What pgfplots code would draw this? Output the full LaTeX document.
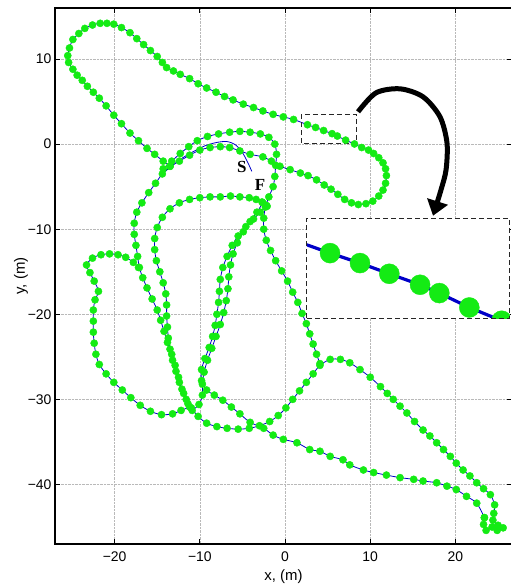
\documentclass[border=0pt]{standalone}
\usepackage{pgfplots}
\usepackage{pgfplotstable}
\pgfplotsset{compat=1.18}
\usepackage{fontspec}
\setmainfont{Liberation Sans}
\newfontfamily\labelserif{Liberation Serif}
\usetikzlibrary{arrows.meta}
\definecolor{trackgreen}{RGB}{20,235,20}
\definecolor{trackblue}{RGB}{0,0,200}

% Upper lobe, run from the crossing near (-13.5,-2.6) and back
\pgfplotstableread[row sep=\\]{x y\\
-13.5 -2.6\\ -14.3 -2.0\\ -15.3 -1.2\\ -16.2 -0.5\\ -17.2 0.4\\ -18.2 1.3\\ -19.2 2.4\\ -20.1 3.4\\
-21.0 4.5\\ -21.8 5.4\\ -22.5 6.1\\ -23.2 6.8\\ -23.8 7.5\\ -24.4 8.1\\ -24.9 8.8\\ -25.4 9.6\\
-25.5 10.4\\ -25.3 11.3\\ -24.9 12.3\\ -24.2 13.0\\ -23.5 13.6\\ -22.6 14.0\\ -21.7 14.2\\ -20.9 14.2\\
-20.1 14.1\\ -19.2 13.7\\ -18.2 13.1\\ -17.4 12.4\\ -16.6 11.7\\ -15.8 11.0\\ -15.0 10.3\\ -14.4 9.6\\
-13.9 9.0\\ -13.1 8.6\\ -12.3 8.2\\ -11.2 7.7\\ -10.2 7.1\\ -9.2 6.6\\ -8.1 6.1\\ -7.1 5.6\\
-6.1 5.2\\ -4.9 4.7\\ -3.7 4.3\\ -2.6 3.9\\ -1.4 3.5\\ -0.2 3.2\\ 1.0 2.9\\ 2.63 2.28\\
3.59 1.96\\ 4.53 1.60\\ 5.52 1.23\\ 6.14 0.95\\ 7.11 0.47\\ 8.15 0.02\\ 9.0 -0.4\\ 9.8 -0.7\\
10.4 -1.1\\ 11.0 -1.6\\ 11.5 -2.2\\ 11.8 -2.9\\ 11.9 -3.7\\ 11.8 -4.6\\ 11.5 -5.4\\ 11.0 -6.1\\
10.3 -6.7\\ 9.5 -7.0\\ 8.6 -7.1\\ 7.8 -6.9\\ 7.0 -6.5\\ 6.2 -5.9\\ 5.4 -5.3\\ 4.6 -4.8\\
3.7 -4.2\\ 2.7 -3.7\\ 1.8 -3.4\\ 0.6 -3.0\\ -0.6 -2.6\\ -1.6 -2.0\\ -2.6 -1.5\\ -4.1 -1.2\\
-5.3 -0.8\\ -6.5 -0.4\\ -7.6 -0.3\\ -8.8 -0.4\\ -10.0 -0.7\\ -11.2 -1.3\\ -12.4 -2.0\\ -13.5 -2.6\\
}\tabLobe

% Western leg, bottom arc, the rise and the long run out to the turn at the far corner
\pgfplotstableread[row sep=\\]{x y\\
-13.5 -2.6\\ -14.4 -3.5\\ -15.2 -4.6\\ -16.0 -5.7\\ -16.8 -6.9\\ -17.4 -8.0\\ -17.7 -9.3\\ -17.7 -10.6\\
-17.5 -11.9\\ -17.3 -13.2\\ -17.1 -14.5\\ -16.7 -15.7\\ -16.2 -16.9\\ -15.6 -18.2\\ -15.0 -19.5\\ -14.6 -20.7\\
-14.2 -22.0\\ -13.8 -23.3\\ -13.3 -24.7\\ -12.9 -26.0\\ -12.5 -27.4\\ -12.1 -28.8\\ -11.6 -30.0\\ -11.0 -31.0\\
-10.2 -32.0\\ -9.2 -32.8\\ -8.0 -33.2\\ -6.8 -33.4\\ -5.5 -33.5\\ -4.2 -33.4\\ -3.0 -33.1\\ -1.8 -32.6\\
-0.8 -31.9\\ 0.1 -31.0\\ 0.9 -30.0\\ 1.7 -29.0\\ 2.5 -28.0\\ 3.3 -27.0\\ 4.1 -26.0\\ 5.3 -25.3\\
6.5 -25.3\\ 7.6 -25.7\\ 8.8 -26.5\\ 10.0 -27.4\\ 11.2 -28.5\\ 12.0 -29.3\\ 12.7 -30.0\\ 13.5 -30.8\\
14.3 -31.6\\ 15.2 -32.6\\ 16.2 -33.6\\ 17.0 -34.3\\ 17.8 -35.1\\ 18.6 -35.9\\ 19.4 -36.7\\ 20.1 -37.5\\
20.9 -38.3\\ 21.7 -39.0\\ 22.5 -39.8\\ 23.3 -40.5\\ 24.1 -41.2\\ 24.6 -42.4\\ 24.5 -43.4\\ 24.4 -44.2\\
25.0 -44.8\\ 25.6 -45.1\\ 24.9 -45.4\\ 24.3 -45.0\\ 23.6 -45.4\\ 23.3 -44.7\\ 23.4 -43.9\\
}\tabSouth

% Return leg along the bottom and up the middle to F
\pgfplotstableread[row sep=\\]{x y\\
23.4 -43.9\\ 22.5 -42.2\\ 21.3 -41.4\\ 20.1 -40.6\\ 19.0 -40.2\\ 17.8 -39.8\\ 16.2 -39.6\\ 15.1 -39.4\\
13.5 -39.2\\ 11.9 -38.9\\ 10.4 -38.6\\ 9.2 -38.3\\ 7.6 -37.7\\ 6.8 -37.1\\ 5.3 -36.7\\ 4.1 -36.1\\
2.9 -35.9\\ 1.4 -35.1\\ -0.2 -34.7\\ -1.4 -34.2\\ -2.5 -33.4\\ -4.1 -32.7\\ -5.3 -31.7\\ -6.3 -30.9\\
-7.3 -30.1\\ -8.3 -29.5\\ -9.2 -28.9\\ -9.8 -27.8\\ -9.8 -26.5\\ -9.4 -25.2\\ -8.9 -23.9\\ -8.5 -22.6\\
-8.2 -21.3\\ -8.0 -20.0\\ -7.8 -18.6\\ -7.7 -17.3\\ -7.6 -15.9\\ -7.3 -14.5\\ -6.8 -13.2\\ -6.2 -11.9\\
-5.5 -10.8\\ -4.6 -9.7\\ -3.7 -8.8\\ -2.9 -8.0\\ -2.2 -7.2\\
}\tabReturn

% Second pass down the middle
\pgfplotstableread[row sep=\\]{x y\\
-2.6 -6.9\\ -3.3 -8.0\\ -4.1 -9.1\\ -4.9 -10.3\\ -5.6 -11.6\\ -6.1 -12.9\\ -6.4 -14.2\\ -6.6 -15.6\\
-6.7 -17.0\\ -6.9 -18.4\\ -7.2 -19.8\\ -7.6 -21.2\\ -8.1 -22.6\\ -8.6 -24.0\\ -9.1 -25.4\\ -9.5 -26.8\\
-9.7 -28.2\\ -9.7 -29.5\\ -10.1 -30.6\\ -10.9 -31.3\\
}\tabMiddle

% Upper arc and the eastern leg down to the rise
\pgfplotstableread[row sep=\\]{x y\\
-14.3 -2.9\\ -13.3 -2.0\\ -12.3 -1.1\\ -11.3 -0.3\\ -10.3 0.4\\ -9.1 0.9\\ -7.8 1.2\\ -6.5 1.4\\
-5.3 1.5\\ -4.1 1.4\\ -2.9 1.2\\ -1.9 0.8\\ -1.2 0.0\\ -1.0 -1.2\\ -1.1 -2.5\\ -1.2 -3.8\\
-1.4 -5.0\\ -1.9 -6.2\\ -2.3 -7.4\\ -2.5 -8.7\\ -2.5 -10.0\\ -2.2 -11.3\\ -1.7 -12.5\\ -1.1 -13.7\\
-0.4 -14.9\\ 0.3 -16.1\\ 0.9 -17.4\\ 1.5 -18.6\\ 2.0 -19.9\\ 2.5 -21.1\\ 2.9 -22.3\\ 3.3 -23.5\\
3.7 -24.7\\ 4.1 -25.8\\
}\tabEast

% Inner arc and the leg west of the middle
\pgfplotstableread[row sep=\\]{x y\\
-2.1 -7.3\\ -2.7 -6.8\\ -3.4 -6.5\\ -4.2 -6.3\\ -5.3 -6.2\\ -6.4 -6.1\\ -7.6 -6.2\\ -8.8 -6.2\\
-10.0 -6.3\\ -11.2 -6.5\\ -12.4 -6.9\\ -13.5 -7.6\\ -14.4 -8.6\\ -15.0 -9.8\\ -15.3 -11.1\\ -15.3 -12.4\\
-15.1 -13.7\\ -14.7 -15.0\\ -14.3 -16.3\\ -14.0 -17.6\\ -13.9 -18.9\\ -13.9 -20.2\\ -13.8 -21.5\\ -13.7 -22.8\\
-13.5 -24.1\\ -13.2 -25.4\\ -12.8 -26.7\\ -12.4 -28.0\\ -11.9 -29.3\\ -11.4 -30.5\\
}\tabInner

% South-western loop
\pgfplotstableread[row sep=\\]{x y\\
-17.2 -14.5\\ -17.8 -13.9\\ -18.7 -13.3\\ -19.6 -13.0\\ -20.6 -12.9\\ -21.6 -13.0\\ -22.6 -13.4\\ -23.3 -14.2\\
-22.9 -15.1\\ -22.4 -16.1\\ -21.9 -17.3\\ -22.3 -18.3\\ -22.5 -19.5\\ -22.5 -20.8\\ -22.5 -22.1\\ -22.4 -23.4\\
-22.2 -24.7\\ -21.8 -25.9\\ -21.0 -27.0\\ -20.1 -28.0\\ -19.1 -28.9\\ -18.1 -29.8\\ -17.0 -30.7\\ -15.8 -31.4\\
-14.5 -31.8\\ -13.2 -31.7\\ -12.2 -31.3\\ -11.2 -30.9\\
}\tabLoop

% Reference path from S
\pgfplotstableread[row sep=\\]{x y\\
-3.9 -3.2\\ -4.4 -2.1\\ -5.0 -1.0\\ -5.8 -0.1\\ -6.8 0.3\\ -8.0 0.2\\ -9.4 -0.2\\ -10.8 -0.9\\
-12.0 -1.6\\ -13.2 -2.5\\ -14.3 -3.4\\
}\tabStart

% Enlarged detail: path ends and the six fixes inside the small box
\pgfplotstableread[row sep=\\]{x y\\
2.55 -11.83\\ 5.28 -12.81\\ 8.80 -13.98\\ 12.24 -15.24\\ 15.85 -16.53\\ 18.11 -17.51\\ 21.63 -19.20\\ 25.43 -20.76\\ 27.0 -21.4\\
}\tabZoomLine
\pgfplotstableread[row sep=\\]{x y\\
5.28 -12.81\\ 8.80 -13.98\\ 12.24 -15.24\\ 15.85 -16.53\\ 18.11 -17.51\\ 21.63 -19.20\\ 25.43 -20.76\\
}\tabZoomFix

\pgfplotsset{
  fix/.style={only marks, mark=*, mark size=3.6bp, trackgreen},
  path/.style={trackblue, line width=0.8bp, smooth, no marks},
}

\begin{document}
\begin{tikzpicture}
\begin{axis}[
  scale only axis, width=457bp, height=536bp,
  at={(55bp,41bp)}, anchor=south west,
  xmin=-27, xmax=26.64, ymin=-47, ymax=16,
  xtick={-20,-10,0,10,20}, xticklabels={−20,−10,0,10,20},
  ytick={-40,-30,-20,-10,0,10}, yticklabels={−40,−30,−20,−10,0,10},
  grid=major, major grid style={densely dotted, gray!55, line width=0.6bp},
  axis line style={line width=1.4bp},
  tick style={black, line width=0.9bp}, major tick length=5bp,
  tick label style={font=\fontsize{14}{14}\selectfont},
  xticklabel style={yshift=-4bp},
  label style={font=\fontsize{15}{15}\selectfont},
  xlabel={x, (m)}, ylabel={y, (m)},
  xlabel style={yshift=-1bp},
  ylabel style={yshift=-7bp},
]
% green fixes first, the path drawn over them
\addplot[fix] table {\tabLobe};
\addplot[fix] table {\tabSouth};
\addplot[fix] table {\tabReturn};
\addplot[fix] table {\tabMiddle};
\addplot[fix] table {\tabEast};
\addplot[fix] table {\tabInner};
\addplot[fix] table {\tabLoop};
\addplot[path] table {\tabLobe};
\addplot[path] table {\tabSouth};
\addplot[path] table {\tabReturn};
\addplot[path] table {\tabMiddle};
\addplot[path] table {\tabEast};
\addplot[path] table {\tabInner};
\addplot[path] table {\tabLoop};
\addplot[path] table {\tabStart};

% small box and its enlargement
\draw[black!85, line width=1bp, dash pattern=on 5bp off 3bp] (1.88,0.12) rectangle (8.41,3.44);
\fill[white] (2.55,-20.45) rectangle (26.4,-8.78);
\begin{scope}
  \clip (2.55,-20.45) rectangle (26.4,-8.78);
  \addplot[trackblue, line width=3.2bp, no marks] table {\tabZoomLine};
  \addplot[only marks, mark=*, mark size=10bp, trackgreen, clip marker paths=true] table {\tabZoomFix};
\end{scope}
\draw[black!85, line width=1bp, dash pattern=on 5bp off 3bp] (2.55,-20.45) rectangle (26.4,-8.78);

% curved arrow from the box to its enlargement
\draw[line width=5bp, -{Triangle[length=15bp,width=21bp]}]
  plot[smooth] coordinates {(8.57,3.80) (10.68,6.03) (13.50,6.50) (16.20,5.56) (18.19,3.21)
  (19.01,0.15) (18.90,-3.02) (18.30,-5.40) (17.37,-8.42)};

\node[font=\labelserif\bfseries\fontsize{17}{17}\selectfont] at (-5.08,-2.67) {S};
\node[font=\labelserif\bfseries\fontsize{17}{17}\selectfont] at (-2.93,-4.78) {F};
\end{axis}
\pgfresetboundingbox
\path (0,0) rectangle (511bp,585bp);
\end{tikzpicture}
\end{document}
